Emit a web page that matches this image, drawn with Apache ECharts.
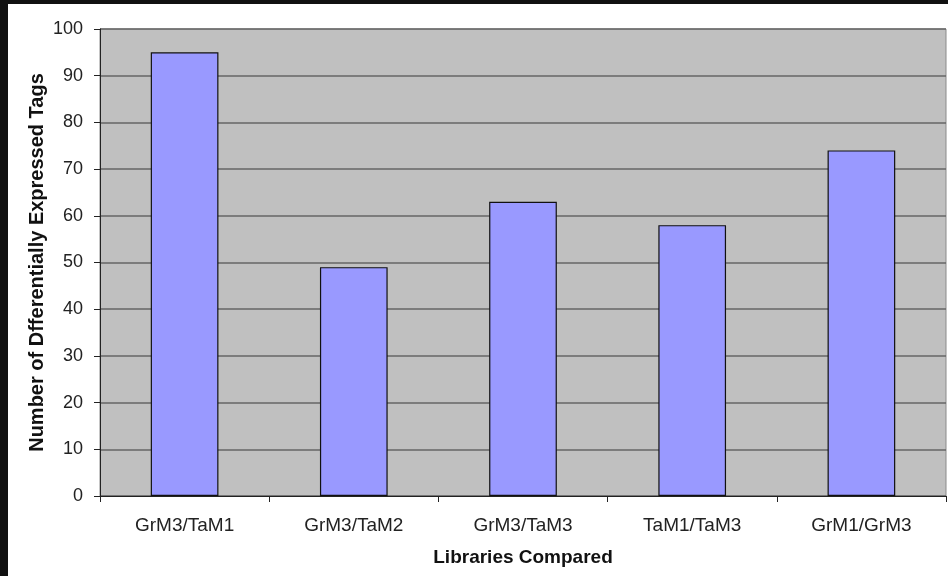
<!DOCTYPE html>
<html><head><meta charset="utf-8">
<script src="https://cdn.jsdelivr.net/npm/echarts@6/dist/echarts.min.js"></script>
<style>
html,body{margin:0;padding:0;background:#111;}
#wrap{position:absolute;left:8px;top:4px;width:940px;height:572px;background:#fff;}
#c{width:940px;height:572px;}
</style></head>
<body><div id="wrap"><div id="c"></div></div>
<script>
const categories = ['GrM3/TaM1','GrM3/TaM2','GrM3/TaM3','TaM1/TaM3','GrM1/GrM3'];
const values = [95, 49, 63, 58, 74];
const chart = echarts.init(document.getElementById('c'));
chart.setOption({
  animation:false,
  backgroundColor:'#fff',
  grid:{left:92,top:25,right:2,bottom:80,show:true,backgroundColor:'#C0C0C0',borderColor:'#8a8a8a',borderWidth:1},
  xAxis:{type:'category',data:categories,
    axisLine:{lineStyle:{color:'#222',width:1}},
    axisTick:{show:true,length:6,lineStyle:{color:'#222'}},
    axisLabel:{color:'#222',fontFamily:'Liberation Sans, Arial',fontSize:19,margin:20},
    name:'Libraries Compared',nameLocation:'middle',nameGap:52,nameMoveOverlap:false,
    nameTextStyle:{color:'#111',fontFamily:'Liberation Sans, Arial',fontSize:19,fontWeight:'bold'}},
  yAxis:{type:'value',min:0,max:100,interval:10,
    axisLine:{show:true,lineStyle:{color:'#222'}},
    axisTick:{show:true,length:6,lineStyle:{color:'#222'}},
    splitLine:{lineStyle:{color:'#666',width:1.5}},
    axisLabel:{color:'#222',fontFamily:'Liberation Sans, Arial',fontSize:18,margin:17},
    name:'Number of Dfferentially Expressed Tags',nameLocation:'middle',nameGap:53,nameMoveOverlap:false,
    nameTextStyle:{color:'#111',fontFamily:'Liberation Sans, Arial',fontSize:20,fontWeight:'bold'}},
  series:[{type:'bar',data:values,barWidth:'40%',
    itemStyle:{color:'#9999FF',borderColor:'#111',borderWidth:1.2}}]
});
</script></body></html>
